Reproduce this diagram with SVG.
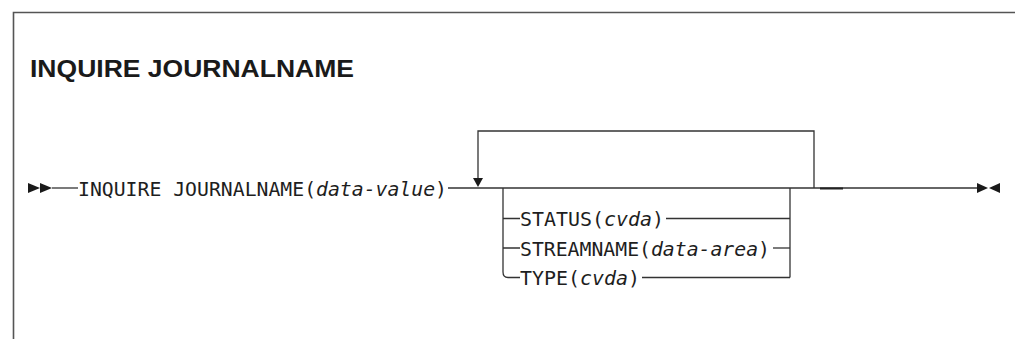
<svg xmlns="http://www.w3.org/2000/svg" width="1015" height="339" viewBox="0 0 1015 339">
<style>
.ln{stroke:#333;stroke-width:1.3;fill:none}
.ar{fill:#1a1a1a;stroke:none}
.t{font-family:"DejaVu Sans Mono","Liberation Mono",monospace;font-size:20px;fill:#1e1e1e}
.v{font-style:italic}
.title{font-family:"Liberation Sans",Arial,sans-serif;font-weight:bold;font-size:23px;fill:#1a1a1a}
</style>
<rect width="1015" height="339" fill="#fff"/>
<g id="frame">
<path d="M13.5,339 V12.5 H1015" stroke="#555" stroke-width="1.6" fill="none"/>
</g>
<g id="title">
<text class="title" x="30" y="76.5" textLength="324" lengthAdjust="spacingAndGlyphs">INQUIRE JOURNALNAME</text>
</g>
<g id="connectors">
<path class="ln" d="M52,188 H78"/>
<path class="ln" d="M448,188 H977"/>
<path class="ln" d="M478,179 V131 H814 V188"/>
<path class="ln" d="M503,188 V272 Q503,277.5 508,277.5 H520"/>
<path class="ln" d="M503,218.5 H520 M503,248 H520"/>
<path class="ln" d="M790,188 V277.5"/>
<path class="ln" d="M666,218.5 H790"/>
<path class="ln" d="M773,248 H790"/>
<path class="ln" d="M642,277.5 H790"/>
<path d="M820,188.5 H843" stroke="#222" stroke-width="2"/>
<polygon class="ar" points="28,183 40,188 28,193"/>
<polygon class="ar" points="40,183 52,188 40,193"/>
<polygon class="ar" points="473,178 483,178 478,187"/>
<polygon class="ar" points="977,183 988,188 977,193"/>
<polygon class="ar" points="1000,183 989,188 1000,193"/>
</g>
<g id="command">
<text class="t" x="78" y="195.5" textLength="369" lengthAdjust="spacingAndGlyphs">INQUIRE JOURNALNAME(<tspan class="v">data-value</tspan>)</text>
</g>
<g id="opt-status">
<text class="t" x="520" y="226" textLength="144" lengthAdjust="spacingAndGlyphs">STATUS(<tspan class="v">cvda</tspan>)</text>
</g>
<g id="opt-streamname">
<text class="t" x="520" y="255.5" textLength="250" lengthAdjust="spacingAndGlyphs">STREAMNAME(<tspan class="v">data-area</tspan>)</text>
</g>
<g id="opt-type">
<text class="t" x="520" y="285" textLength="120" lengthAdjust="spacingAndGlyphs">TYPE(<tspan class="v">cvda</tspan>)</text>
</g>
</svg>
